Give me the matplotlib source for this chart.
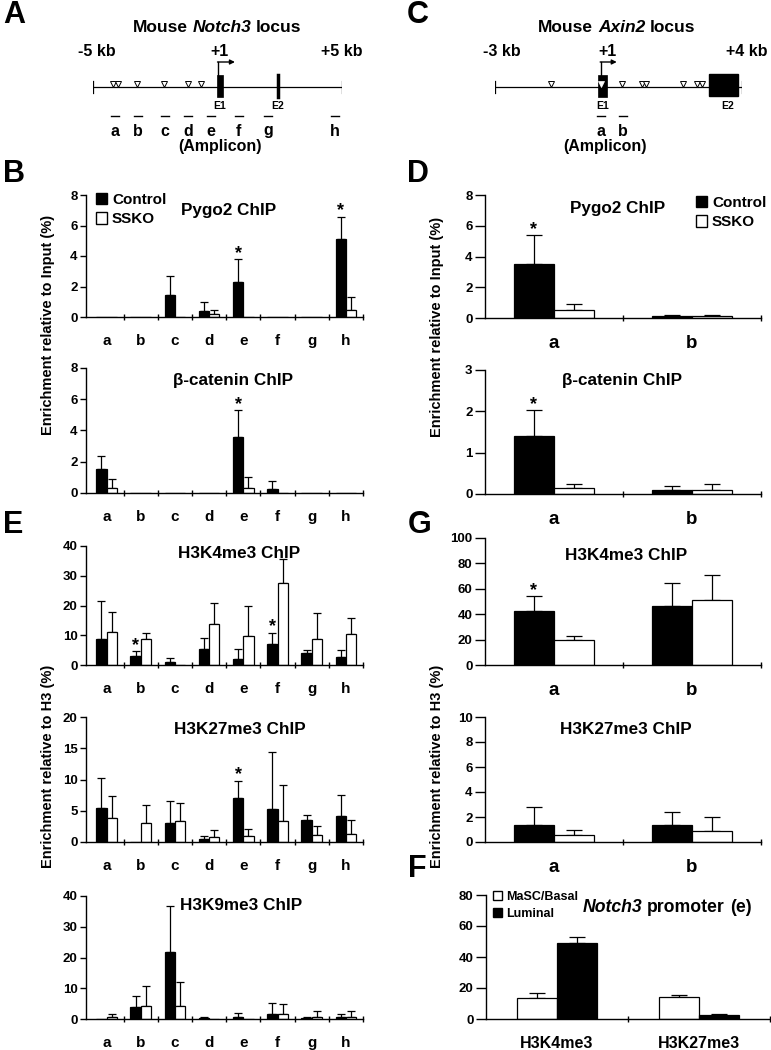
import numpy as np
import matplotlib
matplotlib.use('Agg')
import matplotlib.pyplot as plt
from matplotlib.patches import Patch, Rectangle

plt.rcParams['font.family'] = 'Liberation Sans'
plt.rcParams['font.weight'] = 'bold'
plt.rcParams['axes.linewidth'] = 1.0

# ---- data -------------------------------------------------------------
letters = ['a', 'b', 'c', 'd', 'e', 'f', 'g', 'h']
axin2_amps = ['a', 'b']
marks = ['H3K4me3', 'H3K27me3']

# Notch3 locus (kb from TSS)
notch3_sites = [-4.2, -4.0, -3.23, -2.15, -1.18, -0.66]
notch3_exon1 = (-0.02, 0.22)
notch3_exon2 = 2.43
notch3_amplicons = [-4.12, -3.19, -2.11, -1.18, -0.26, 0.86, 2.03, 4.72]

# Axin2 locus (kb from TSS)
axin2_sites = [-1.41, 0.6, 1.16, 1.28, 2.33, 2.72, 2.86]
axin2_site_in_exon = [0.0]
axin2_exon1 = (-0.08, 0.17)
axin2_exon2 = (3.06, 3.88)
axin2_amplicons = [0.0, 0.63]

# B: Notch3 locus, Control vs SSKO (mean, upper error)
pygo2_n3_ctrl = [0, 0, 1.42, 0.37, 2.30, 0, 0, 5.09]
pygo2_n3_ctrl_err = [0, 0, 1.25, 0.62, 1.49, 0, 0, 1.49]
pygo2_n3_ssko = [0, 0, 0, 0.18, 0, 0, 0, 0.48]
pygo2_n3_ssko_err = [0, 0, 0, 0.26, 0, 0, 0, 0.84]

bcat_n3_ctrl = [1.53, 0, 0, 0, 3.57, 0.28, 0, 0]
bcat_n3_ctrl_err = [0.85, 0, 0, 0, 1.74, 0.51, 0, 0]
bcat_n3_ssko = [0.34, 0, 0, 0, 0.34, 0, 0, 0]
bcat_n3_ssko_err = [0.57, 0, 0, 0, 0.66, 0, 0, 0]

# E: histone marks at Notch3
k4_n3_ctrl = [8.6, 3.1, 0.9, 5.3, 1.9, 7.2, 3.9, 2.6]
k4_n3_ctrl_err = [12.9, 1.6, 1.6, 3.7, 3.5, 3.7, 1.1, 2.4]
k4_n3_ssko = [11.2, 8.6, 0, 13.7, 9.7, 27.7, 8.6, 10.3]
k4_n3_ssko_err = [6.7, 2.0, 0, 7.0, 10.1, 7.8, 9.0, 5.6]

k27_n3_ctrl = [5.4, 0, 3.0, 0.5, 7.0, 5.3, 3.55, 4.1]
k27_n3_ctrl_err = [4.9, 0, 3.5, 0.5, 2.8, 9.1, 0.8, 3.4]
k27_n3_ssko = [3.8, 3.0, 3.3, 0.74, 0.9, 3.3, 1.17, 1.33]
k27_n3_ssko_err = [3.6, 2.9, 2.9, 1.26, 1.2, 5.8, 1.33, 2.12]

k9_n3_ctrl = [0, 3.9, 21.7, 0.3, 0.5, 1.7, 0.3, 0.6]
k9_n3_ctrl_err = [0, 3.7, 15.1, 0.45, 1.4, 3.5, 0.3, 1.0]
k9_n3_ssko = [0.6, 4.1, 4.3, 0, 0, 1.7, 0.75, 0.75]
k9_n3_ssko_err = [1.0, 6.7, 7.6, 0, 0, 3.2, 1.85, 1.85]

# D / G: Axin2 locus
pygo2_ax_ctrl = [3.5, 0.11]
pygo2_ax_ctrl_err = [1.89, 0.11]
pygo2_ax_ssko = [0.5, 0.11]
pygo2_ax_ssko_err = [0.39, 0.06]

bcat_ax_ctrl = [1.40, 0.10]
bcat_ax_ctrl_err = [0.63, 0.09]
bcat_ax_ssko = [0.14, 0.10]
bcat_ax_ssko_err = [0.09, 0.13]

k4_ax_ctrl = [42.7, 46.3]
k4_ax_ctrl_err = [11.5, 18.4]
k4_ax_ssko = [19.4, 51.3]
k4_ax_ssko_err = [3.6, 19.4]

k27_ax_ctrl = [1.38, 1.33]
k27_ax_ctrl_err = [1.41, 1.11]
k27_ax_ssko = [0.53, 0.85]
k27_ax_ssko_err = [0.40, 1.14]

# F: Notch3 promoter (e), MaSC/Basal vs Luminal
masc_basal = [13.3, 14.4]
masc_basal_err = [3.4, 1.0]
luminal = [48.9, 2.6]
luminal_err = [3.9, 0.8]

# ---- figure -------------------------------------------------------------
W, H = 771, 1050
fig = plt.figure(figsize=(W / 100, H / 100), dpi=100)
renderer = fig.canvas.get_renderer()


def px_ax(x0, y0, x1, y1):
    return fig.add_axes([x0 / W, 1 - y1 / H, (x1 - x0) / W, (y1 - y0) / H])


def ftext(x, y, s, **kw):
    return fig.text(x / W, 1 - y / H, s, **kw)


def mixed(xc, y, words, size):
    # words: list of (text, style); joined by single spaces, centred on xc
    gap = 0.278 * size * 100 / 72
    ts = [ftext(0, y, w, style=st, ha='left', va='center', fontsize=size) for w, st in words]
    widths = [t.get_window_extent(renderer=renderer).width for t in ts]
    x = xc - (sum(widths) + gap * (len(ts) - 1)) / 2
    for t, w in zip(ts, widths):
        t.set_x(x / W)
        x += w + gap


def locus(ax, start, end, sites, exon1, amplicons, amp_names, tss, arrow_end, dash):
    ax.set_xlim(start, end)
    ax.set_ylim(160, 0)
    ax.axis('off')
    ax.plot([start, end], [87, 87], color='black', lw=0.9)
    for e in (start, end):
        ax.plot([e, e], [81, 93], color='black', lw=0.9)
    ax.plot(sites, [84] * len(sites), 'v', ms=4.5, mfc='white', mec='black', mew=0.7, clip_on=False)
    ax.add_patch(Rectangle((exon1[0], 75), exon1[1] - exon1[0], 22, fc='black', ec='black', lw=0.5))
    ax.plot([tss, tss], [75, 62], color='black', lw=1.0)
    ax.annotate('', xy=(arrow_end, 62), xytext=(tss - 0.02, 62),
                arrowprops=dict(arrowstyle='-|>', lw=1.0, color='black', mutation_scale=7,
                                shrinkA=0, shrinkB=0))
    for a, n in zip(amplicons, amp_names):
        ax.plot([a - dash, a + dash], [116, 116], color='black', lw=1.0)
        ax.text(a, 131, n, ha='center', va='center', fontsize=11.5)
    ax.text((exon1[0] + exon1[1]) / 2, 106, 'E1', ha='center', va='center', fontsize=7.5)


# A: Notch3 locus
axA = px_ax(93, 0, 342, 160)
locus(axA, -5, 5, notch3_sites, notch3_exon1, notch3_amplicons, letters, 0.02, 0.7, 0.16)
axA.plot([notch3_exon2, notch3_exon2], [75, 97], color='black', lw=2.5)
axA.text(notch3_exon2, 106, 'E2', ha='center', va='center', fontsize=7.5)
axA.text(-4.84, 52, '-5 kb', ha='center', va='center', fontsize=11.5, clip_on=False)
axA.text(0.1, 52, '+1', ha='center', va='center', fontsize=11.5)
axA.text(5.0, 52, '+5 kb', ha='center', va='center', fontsize=11.5, clip_on=False)
axA.text(0.1, 146, '(Amplicon)', ha='center', va='center', fontsize=11.5)
mixed(217, 27, [('Mouse', 'normal'), ('Notch3', 'italic'), ('locus', 'normal')], 12.5)

# C: Axin2 locus
axC = px_ax(495, 0, 742, 160)
locus(axC, -3, 4, axin2_sites, axin2_exon1, axin2_amplicons, axin2_amps, 0.0, 0.45, 0.11)
axC.plot(axin2_site_in_exon, [84], 'v', ms=4.0, mfc='white', mec='white', mew=0.5)
axC.add_patch(Rectangle((axin2_exon2[0], 74), axin2_exon2[1] - axin2_exon2[0], 22, fc='black', ec='black'))
axC.text(3.6, 106, 'E2', ha='center', va='center', fontsize=7.5)
axC.text(-2.8, 52, '-3 kb', ha='center', va='center', fontsize=11.5)
axC.text(0.2, 52, '+1', ha='center', va='center', fontsize=11.5)
axC.text(4.14, 52, '+4 kb', ha='center', va='center', fontsize=11.5, clip_on=False)
axC.text(0.12, 146, '(Amplicon)', ha='center', va='center', fontsize=11.5)
mixed(617, 27, [('Mouse', 'normal'), ('Axin2', 'italic'), ('locus', 'normal')], 12.5)


def bars(ax, cats, left, left_err, right, right_err, ymax, ystep, width, capsize,
         xmin, stars=(), left_color='black', right_color='white', catsize=11, ticklen=4):
    x = np.arange(len(cats))
    left = np.array(left, float)
    right = np.array(right, float)
    left_err = np.array(left_err, float)
    right_err = np.array(right_err, float)
    ax.bar(x - width / 2, left, width, color=left_color, edgecolor='black', linewidth=0.9, zorder=2)
    ax.bar(x + width / 2, right, width, color=right_color, edgecolor='black', linewidth=0.9, zorder=2)
    for xs, v, e in ((x - width / 2, left, left_err), (x + width / 2, right, right_err)):
        m = e > 0
        ax.errorbar(xs[m], v[m], yerr=[np.zeros(m.sum()), e[m]], fmt='none', ecolor='black',
                    elinewidth=0.9, capsize=capsize, capthick=0.9, zorder=1)
    for i in stars:
        ax.annotate('*', (i - width / 2, left[i] + left_err[i]), xytext=(0, 1),
                    textcoords='offset points', ha='center', va='baseline', fontsize=13)
    ax.set_xlim(xmin, len(cats) - 0.5)
    ax.set_ylim(0, ymax)
    ax.set_yticks(np.arange(0, ymax + ystep / 2, ystep))
    ax.set_xticks(x)
    ax.set_xticklabels(cats)
    ax.set_xticks(np.arange(len(cats)) + 0.5, minor=True)
    ax.tick_params(axis='x', which='major', length=0, pad=12, labelsize=catsize)
    ax.tick_params(axis='x', which='minor', direction='inout', length=5, width=1)
    ax.tick_params(axis='y', direction='out', length=ticklen, width=1, labelsize=9.5, pad=2)
    for s in ('top', 'right'):
        ax.spines[s].set_visible(False)


# left column: Notch3
LX0, LX1 = 86, 363
axB1 = px_ax(LX0, 195, LX1, 317)
bars(axB1, letters, pygo2_n3_ctrl, pygo2_n3_ctrl_err, pygo2_n3_ssko, pygo2_n3_ssko_err,
     8, 2, 0.3, 3, -0.6, stars=[4, 7])
axB2 = px_ax(LX0, 368, LX1, 493)
bars(axB2, letters, bcat_n3_ctrl, bcat_n3_ctrl_err, bcat_n3_ssko, bcat_n3_ssko_err,
     8, 2, 0.3, 3, -0.6, stars=[4])
axE1 = px_ax(LX0, 546, LX1, 665)
bars(axE1, letters, k4_n3_ctrl, k4_n3_ctrl_err, k4_n3_ssko, k4_n3_ssko_err,
     40, 10, 0.3, 3, -0.6, stars=[1, 5])
axE2 = px_ax(LX0, 717, LX1, 842)
bars(axE2, letters, k27_n3_ctrl, k27_n3_ctrl_err, k27_n3_ssko, k27_n3_ssko_err,
     20, 5, 0.3, 3, -0.6, stars=[4])
axE3 = px_ax(LX0, 896, LX1, 1019)
bars(axE3, letters, k9_n3_ctrl, k9_n3_ctrl_err, k9_n3_ssko, k9_n3_ssko_err,
     40, 10, 0.3, 3, -0.6)

# right column: Axin2
RX0, RX1 = 485, 761
axD1 = px_ax(RX0, 195, RX1, 318)
bars(axD1, axin2_amps, pygo2_ax_ctrl, pygo2_ax_ctrl_err, pygo2_ax_ssko, pygo2_ax_ssko_err,
     8, 2, 0.29, 6, -0.5, stars=[0], catsize=13.5, ticklen=7)
axD2 = px_ax(RX0, 370, RX1, 494)
bars(axD2, axin2_amps, bcat_ax_ctrl, bcat_ax_ctrl_err, bcat_ax_ssko, bcat_ax_ssko_err,
     3, 1, 0.29, 6, -0.5, stars=[0], catsize=13.5, ticklen=7)
axG1 = px_ax(RX0, 538, RX1, 665)
bars(axG1, axin2_amps, k4_ax_ctrl, k4_ax_ctrl_err, k4_ax_ssko, k4_ax_ssko_err,
     100, 20, 0.29, 6, -0.5, stars=[0], catsize=13.5, ticklen=7)
axG2 = px_ax(RX0, 717, RX1, 842)
bars(axG2, axin2_amps, k27_ax_ctrl, k27_ax_ctrl_err, k27_ax_ssko, k27_ax_ssko_err,
     10, 2, 0.29, 6, -0.5, catsize=13.5, ticklen=7)
axF = px_ax(486, 895, 770, 1019)
bars(axF, marks, masc_basal, masc_basal_err, luminal, luminal_err,
     80, 20, 0.28, 6, -0.5, left_color='white', right_color='black', catsize=11.5, ticklen=7)

# titles
ftext(229, 210, 'Pygo2 ChIP', ha='center', va='center', fontsize=12.3)
ftext(233, 380, '\u03b2-catenin ChIP', ha='center', va='center', fontsize=12.3)
ftext(239, 553, 'H3K4me3 ChIP', ha='center', va='center', fontsize=12.3)
ftext(240, 730, 'H3K27me3 ChIP', ha='center', va='center', fontsize=12.3)
ftext(241, 905, 'H3K9me3 ChIP', ha='center', va='center', fontsize=12.3)
ftext(618, 209, 'Pygo2 ChIP', ha='center', va='center', fontsize=12.3)
ftext(622, 380, '\u03b2-catenin ChIP', ha='center', va='center', fontsize=12.3)
ftext(626, 555, 'H3K4me3 ChIP', ha='center', va='center', fontsize=12.3)
ftext(626, 730, 'H3K27me3 ChIP', ha='center', va='center', fontsize=12.3)
mixed(667, 907, [('Notch3', 'italic'), ('promoter', 'normal'), ('(e)', 'normal')], 12.7)

# y labels
ftext(48, 325, 'Enrichment relative to Input (%)', rotation=90, ha='center', va='center', fontsize=10.5)
ftext(437, 327, 'Enrichment relative to Input (%)', rotation=90, ha='center', va='center', fontsize=10.5)
ftext(48, 766, 'Enrichment relative to H3 (%)', rotation=90, ha='center', va='center', fontsize=10.5)
ftext(437, 766, 'Enrichment relative to H3 (%)', rotation=90, ha='center', va='center', fontsize=10.5)

# legends
ctrl_handles = [Patch(fc='black', ec='black', label='Control'), Patch(fc='white', ec='black', label='SSKO')]
for ax, (lx, ly) in ((axB1, (96, 193)), (axD1, (696, 196))):
    ax.legend(handles=ctrl_handles, loc='upper left', bbox_to_anchor=(lx / W, 1 - ly / H),
              bbox_transform=fig.transFigure, frameon=False, borderpad=0, borderaxespad=0,
              handlelength=0.75, handleheight=0.75, handletextpad=0.3, labelspacing=0.35,
              prop=dict(weight='bold', size=11))
cell_handles = [Patch(fc='white', ec='black', label='MaSC/Basal'), Patch(fc='black', ec='black', label='Luminal')]
axF.legend(handles=cell_handles, loc='upper left', bbox_to_anchor=(493 / W, 1 - 891 / H),
           bbox_transform=fig.transFigure, frameon=False, borderpad=0, borderaxespad=0,
           handlelength=0.75, handleheight=0.75, handletextpad=0.3, labelspacing=0.4,
           prop=dict(weight='bold', size=9))

# panel letters
for s, x, y in (('A', 3, 23), ('B', 3, 182), ('C', 407, 23), ('D', 407, 182),
                ('E', 3, 533), ('G', 408, 533), ('F', 408, 877)):
    ftext(x, y, s, ha='left', va='baseline', fontsize=22)

fig.savefig('out.png', dpi=100)
